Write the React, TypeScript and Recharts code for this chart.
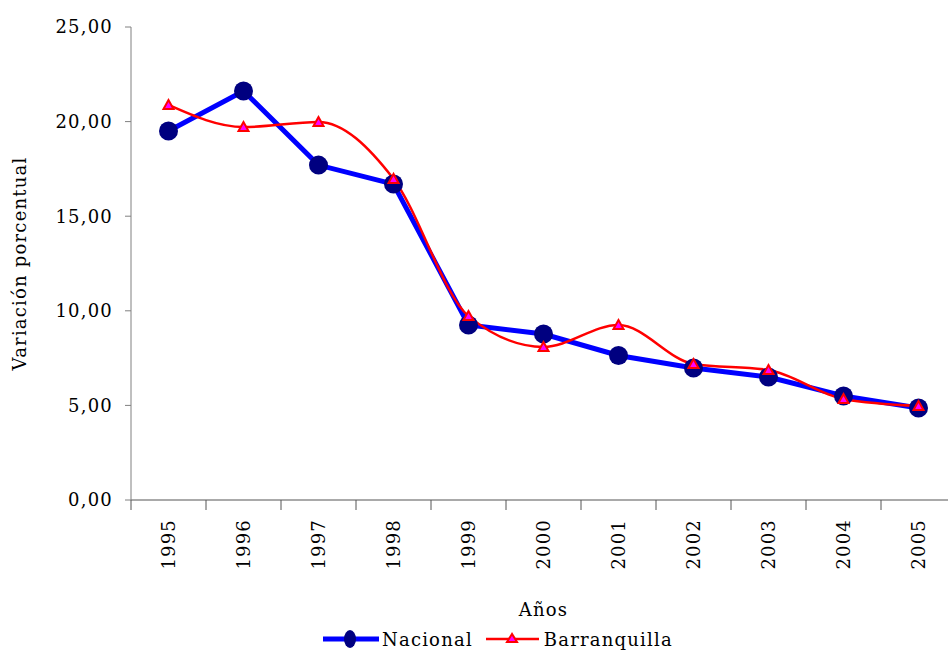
import { LineChart, Line, XAxis, YAxis, Legend } from "recharts";

const years = ["1995", "1996", "1997", "1998", "1999", "2000", "2001", "2002", "2003", "2004", "2005"];
const nacional = [19.5, 21.62, 17.7, 16.7, 9.25, 8.77, 7.64, 6.98, 6.5, 5.5, 4.86];
const barranquilla = [20.88, 19.71, 19.98, 16.97, 9.72, 8.09, 9.25, 7.19, 6.87, 5.34, 4.97];
const yTicks = [0, 5, 10, 15, 20, 25];

const data = years.map((y, i) => ({
  year: y,
  nacional: nacional[i],
  barranquilla: barranquilla[i],
}));

const FONT = "'DejaVu Serif', serif";
const LS = "1.2px";
const CHART_W = 970;
const CHART_H = 650;
const Y_AXIS_W = 131;
const LEGEND_H = 20;
const MARGIN = { top: 27, right: 14, left: 0, bottom: 0 };
const PLOT_W = CHART_W - MARGIN.left - MARGIN.right - Y_AXIS_W;
const BAND = PLOT_W / years.length;

const fmt = (v: number) => v.toFixed(2).replace(".", ",");

function YearTick(props: any) {
  const { x, y, payload } = props;
  const left = x - BAND / 2;
  return (
    <g>
      <line x1={left} y1={y} x2={left} y2={y + 10} stroke="#555" strokeWidth={1} />
      <text
        x={0}
        y={0}
        dy="0.35em"
        transform={`translate(${x},${y + 19}) rotate(-90)`}
        textAnchor="end"
        fontSize={18}
        fontFamily={FONT}
        letterSpacing={LS}
        fill="#000"
      >
        {payload.value}
      </text>
    </g>
  );
}

function Triangle(props: any) {
  const { cx, cy } = props;
  if (cx == null || cy == null) return null;
  return (
    <polygon
      points={`${cx},${cy - 5} ${cx - 5},${cy + 4} ${cx + 5},${cy + 4}`}
      fill="#FF00FF"
      stroke="#FF0000"
      strokeWidth={2}
    />
  );
}

function LegendBox() {
  return (
    <div
      style={{
        display: "flex",
        alignItems: "center",
        height: LEGEND_H,
        fontFamily: FONT,
        fontSize: 18,
        letterSpacing: LS,
        color: "#000",
        whiteSpace: "nowrap",
      }}
    >
      <svg width={58} height={20}>
        <line x1={1} y1={10} x2={57} y2={10} stroke="#0000FF" strokeWidth={5} />
        <ellipse cx={28} cy={10} rx={6} ry={9} fill="#000080" />
      </svg>
      <span style={{ marginLeft: 2, marginRight: 12 }}>Nacional</span>
      <svg width={55} height={20}>
        <line x1={1} y1={10} x2={54} y2={10} stroke="#FF0000" strokeWidth={2.5} />
        <polygon points="27,5 22,13 32,13" fill="#FF00FF" stroke="#FF0000" strokeWidth={2} />
      </svg>
      <span style={{ marginLeft: 4 }}>Barranquilla</span>
    </div>
  );
}

export default function App() {
  return (
    <div
      style={{
        position: "absolute",
        left: 0,
        top: 0,
        width: 948,
        height: 650,
        overflow: "hidden",
        background: "#fff",
      }}
    >
      <LineChart width={CHART_W} height={CHART_H} data={data} margin={MARGIN}>
        <XAxis
          dataKey="year"
          height={150 - LEGEND_H}
          padding={{ left: BAND / 2, right: BAND / 2 }}
          tick={<YearTick />}
          tickLine={false}
          tickSize={0}
          tickMargin={0}
          interval={0}
          axisLine={{ stroke: "#555" }}
          label={{
            value: "Años",
            position: "insideBottom",
            offset: 14,
            style: { fontFamily: FONT, fontSize: 18, letterSpacing: LS, fill: "#000" },
          }}
        />
        <YAxis
          width={Y_AXIS_W}
          domain={[0, 25]}
          ticks={yTicks}
          tickFormatter={fmt}
          tickSize={6}
          tickMargin={12}
          axisLine={{ stroke: "#808080" }}
          tickLine={{ stroke: "#808080" }}
          tick={{ fontFamily: FONT, fontSize: 18, fill: "#000", letterSpacing: LS }}
          label={{
            value: "Variación porcentual",
            angle: -90,
            position: "insideLeft",
            offset: 20,
            style: { textAnchor: "middle", fontFamily: FONT, fontSize: 18, letterSpacing: LS, fill: "#000" },
          }}
        />
        <Legend
          layout="vertical"
          align="center"
          verticalAlign="bottom"
          content={<LegendBox />}
          wrapperStyle={{ position: "absolute", left: 322, top: 629, width: "auto" }}
        />
        <Line
          dataKey="nacional"
          name="Nacional"
          type="linear"
          stroke="#0000FF"
          strokeWidth={5}
          dot={{ r: 9.5, fill: "#000080", stroke: "none" }}
          activeDot={false}
          isAnimationActive={false}
        />
        <Line
          dataKey="barranquilla"
          name="Barranquilla"
          type="monotone"
          stroke="#FF0000"
          strokeWidth={2.5}
          dot={<Triangle />}
          activeDot={false}
          isAnimationActive={false}
        />
      </LineChart>
    </div>
  );
}
